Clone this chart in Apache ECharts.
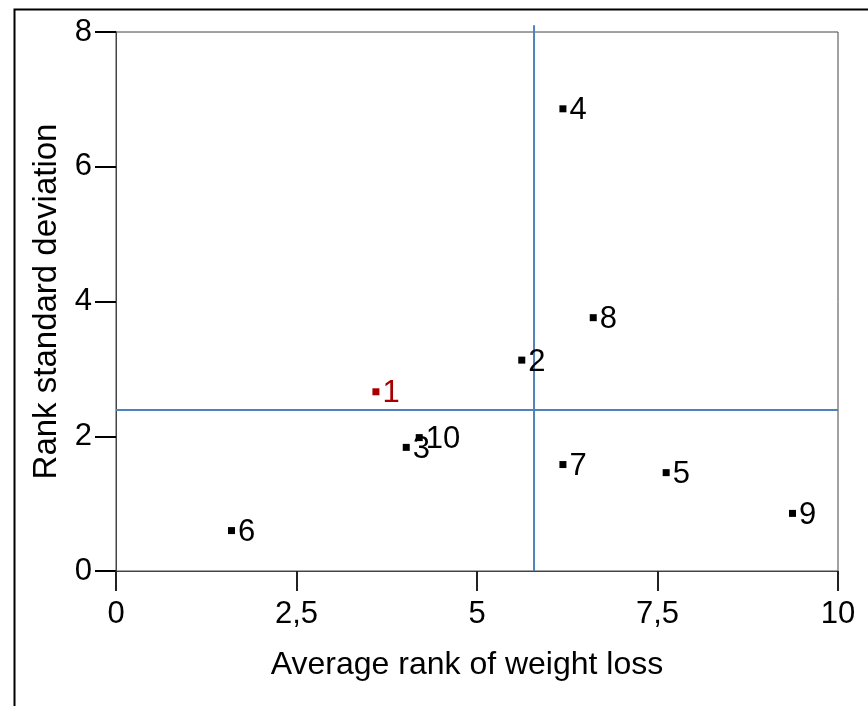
<!DOCTYPE html>
<html>
<head>
<meta charset="utf-8">
<script src="https://cdn.jsdelivr.net/npm/echarts@6/dist/echarts.min.js"></script>
<style>
html,body{margin:0;padding:0;background:#fff;}
#c{width:868px;height:706px;}
</style>
</head>
<body>
<div id="c"></div>
<script>
// ---- data ----
var pointIds = ['1','2','3','4','5','6','7','8','9','10'];
var avgRank = [3.60, 5.62, 4.02, 6.19, 7.62, 1.60, 6.19, 6.61, 9.37, 4.20];
var rankSd  = [2.66, 3.13, 1.835, 6.86, 1.46, 0.60, 1.58, 3.76, 0.855, 1.98];
var highlightId = '1';
var meanAvgRank = 5.79;
var meanRankSd = 2.39;
var xTicks = [0, 2.5, 5, 7.5, 10];
var yTicks = [0, 2, 4, 6, 8];
var xTitle = 'Average rank of weight loss';
var yTitle = 'Rank standard deviation';

var FONT = '"Liberation Sans", Arial, sans-serif';
var BLUE = '#4F81BD';
var RED = '#A80000';

var pts = pointIds.map(function (id, i) {
  var d = { name: id, value: [avgRank[i], rankSd[i]] };
  if (id === highlightId) {
    d.itemStyle = { color: RED, opacity: 1 };
    d.label = { color: RED };
  }
  return d;
});

var chart = echarts.init(document.getElementById('c'), null, { renderer: 'canvas' });
chart.setOption({
  animation: false,
  backgroundColor: '#fff',
  textStyle: { fontFamily: FONT },
  graphic: [{
    type: 'rect', left: 12, top: 7, silent: true, z: -10,
    shape: { width: 1000, height: 1000 },
    style: { fill: 'none', stroke: '#000', lineWidth: 2 }
  }],
  grid: {
    left: 116, top: 32, right: 30, bottom: 135,
    show: true, borderColor: '#444', borderWidth: 1, backgroundColor: 'transparent'
  },
  xAxis: {
    type: 'value', min: xTicks[0], max: xTicks[xTicks.length - 1], interval: xTicks[1] - xTicks[0],
    name: xTitle, nameLocation: 'middle', nameGap: 78,
    nameTextStyle: { fontSize: 32, color: '#000', fontFamily: FONT, padding: [0, 20, 0, 0] },
    axisLine: { show: true, onZero: false, lineStyle: { color: '#444', width: 1 } },
    axisTick: { show: true, inside: false, length: 20, lineStyle: { color: '#222', width: 2 } },
    axisLabel: {
      fontSize: 31, color: '#000', margin: 28, fontFamily: FONT,
      formatter: function (v) { return String(v).replace('.', ','); }
    },
    splitLine: { show: false }
  },
  yAxis: {
    type: 'value', min: yTicks[0], max: yTicks[yTicks.length - 1], interval: yTicks[1] - yTicks[0],
    name: yTitle, nameLocation: 'middle', nameGap: 52, nameRotate: 90,
    nameTextStyle: { fontSize: 33, color: '#000', fontFamily: FONT },
    axisLine: { show: true, onZero: false, lineStyle: { color: '#444', width: 1 } },
    axisTick: { show: true, inside: false, length: 21, lineStyle: { color: '#000', width: 2 } },
    axisLabel: { fontSize: 31, color: '#000', margin: 24, fontFamily: FONT },
    splitLine: { show: false }
  },
  series: [
    {
      type: 'line', clip: false, symbol: 'none', silent: true, z: 1,
      lineStyle: { color: BLUE, width: 2 },
      data: [[meanAvgRank, yTicks[0]], [meanAvgRank, yTicks[yTicks.length - 1] + 0.1]]
    },
    {
      type: 'line', clip: false, symbol: 'none', silent: true, z: 1,
      lineStyle: { color: BLUE, width: 2 },
      data: [[xTicks[0], meanRankSd], [xTicks[xTicks.length - 1], meanRankSd]]
    },
    {
      type: 'scatter', z: 3,
      symbol: 'rect', symbolSize: 7,
      itemStyle: { color: '#000', opacity: 1 },
      label: {
        show: true, position: 'right', distance: 3,
        formatter: '{b}', fontSize: 31, color: '#000', fontFamily: FONT,
        offset: [0, 2]
      },
      data: pts
    }
  ]
});
</script>
</body>
</html>
